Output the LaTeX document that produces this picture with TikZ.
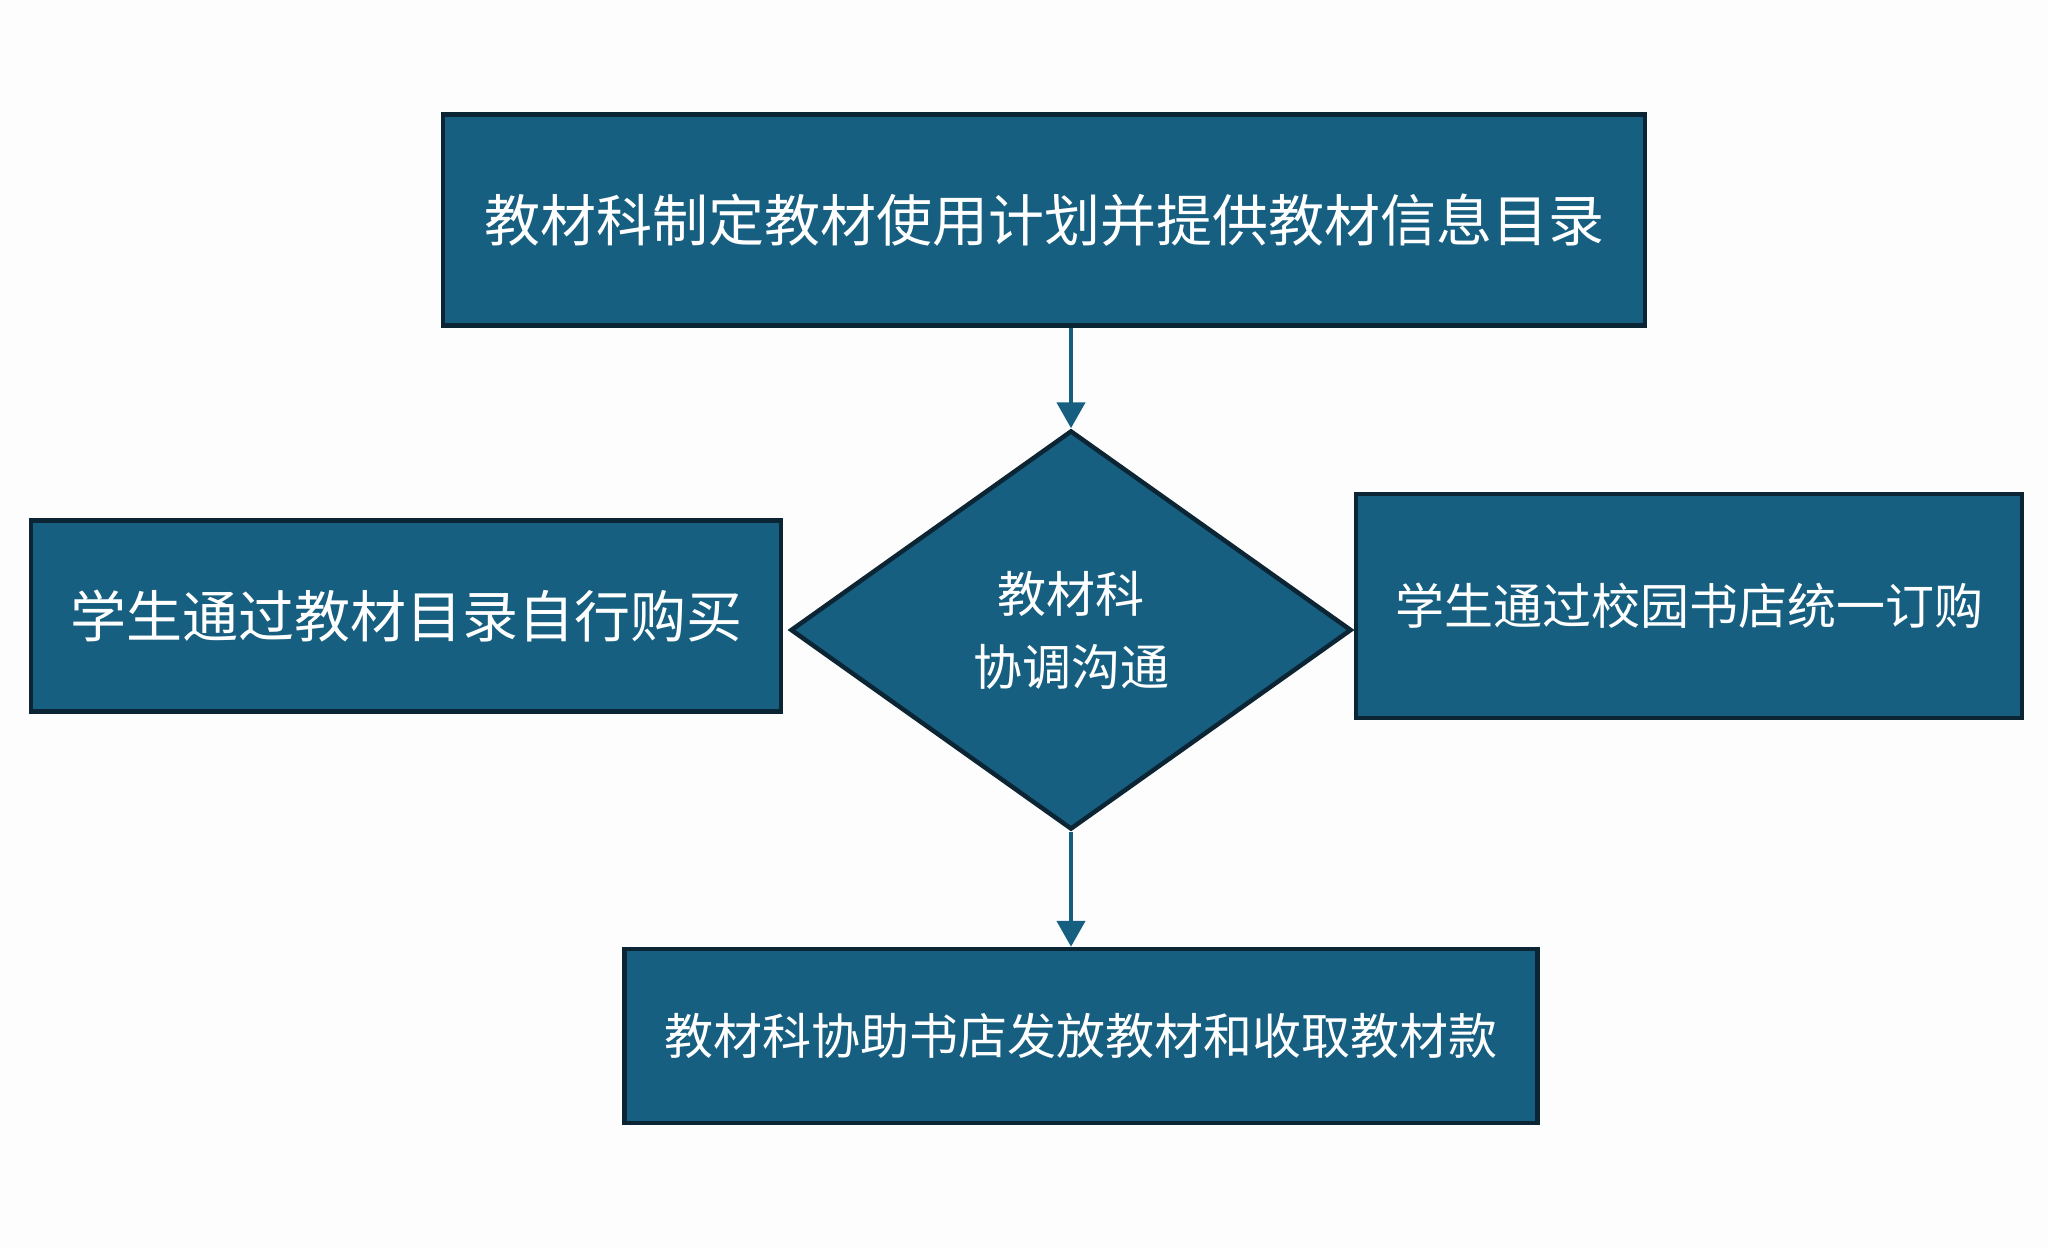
\documentclass[tikz,border=0pt]{standalone}
\usepackage{fontspec}
\setmainfont{Noto Sans CJK SC}
\usetikzlibrary{shapes.geometric,arrows.meta}
\definecolor{boxfill}{HTML}{175F80}
\definecolor{boxline}{HTML}{0C2535}
\definecolor{bg}{HTML}{FDFDFD}
\tikzset{
  flowbox/.style={draw=boxline, fill=boxfill, line width=4.5pt, inner sep=0pt, text=white, align=center},
  bigtext/.style={font=\fontsize{56pt}{66pt}\selectfont},
  midtext/.style={font=\fontsize{49pt}{73pt}\selectfont},
  flowarrow/.style={draw=boxfill, line width=4.5pt, -{Triangle[width=28pt,length=26pt]}}
}
\begin{document}
\begin{tikzpicture}[x=1pt,y=-1pt]
\fill[bg] (0,0) rectangle (2048,1248);
\useasboundingbox (0,0) rectangle (2048,1248);
\node[flowbox, bigtext, minimum width=1202pt, minimum height=211pt] (top) at (1044,220) {教材科制定教材使用计划并提供教材信息目录};
\node[flowbox, diamond, midtext, minimum width=561pt, minimum height=399pt, aspect=1.41] (dia) at (1071,630) {教材科\\协调沟通};
\node[flowbox, bigtext, minimum width=750pt, minimum height=191pt] (left) at (406,616) {学生通过教材目录自行购买};
\node[flowbox, midtext, minimum width=666pt, minimum height=224pt] (right) at (1689,606) {学生通过校园书店统一订购};
\node[flowbox, midtext, minimum width=913pt, minimum height=174pt] (bot) at (1081,1036) {教材科协助书店发放教材和收取教材款};
\draw[flowarrow] (top.south -| dia.north) -- (dia.north);
\draw[flowarrow] (dia.south) -- (dia.south |- bot.north);
\end{tikzpicture}
\end{document}
